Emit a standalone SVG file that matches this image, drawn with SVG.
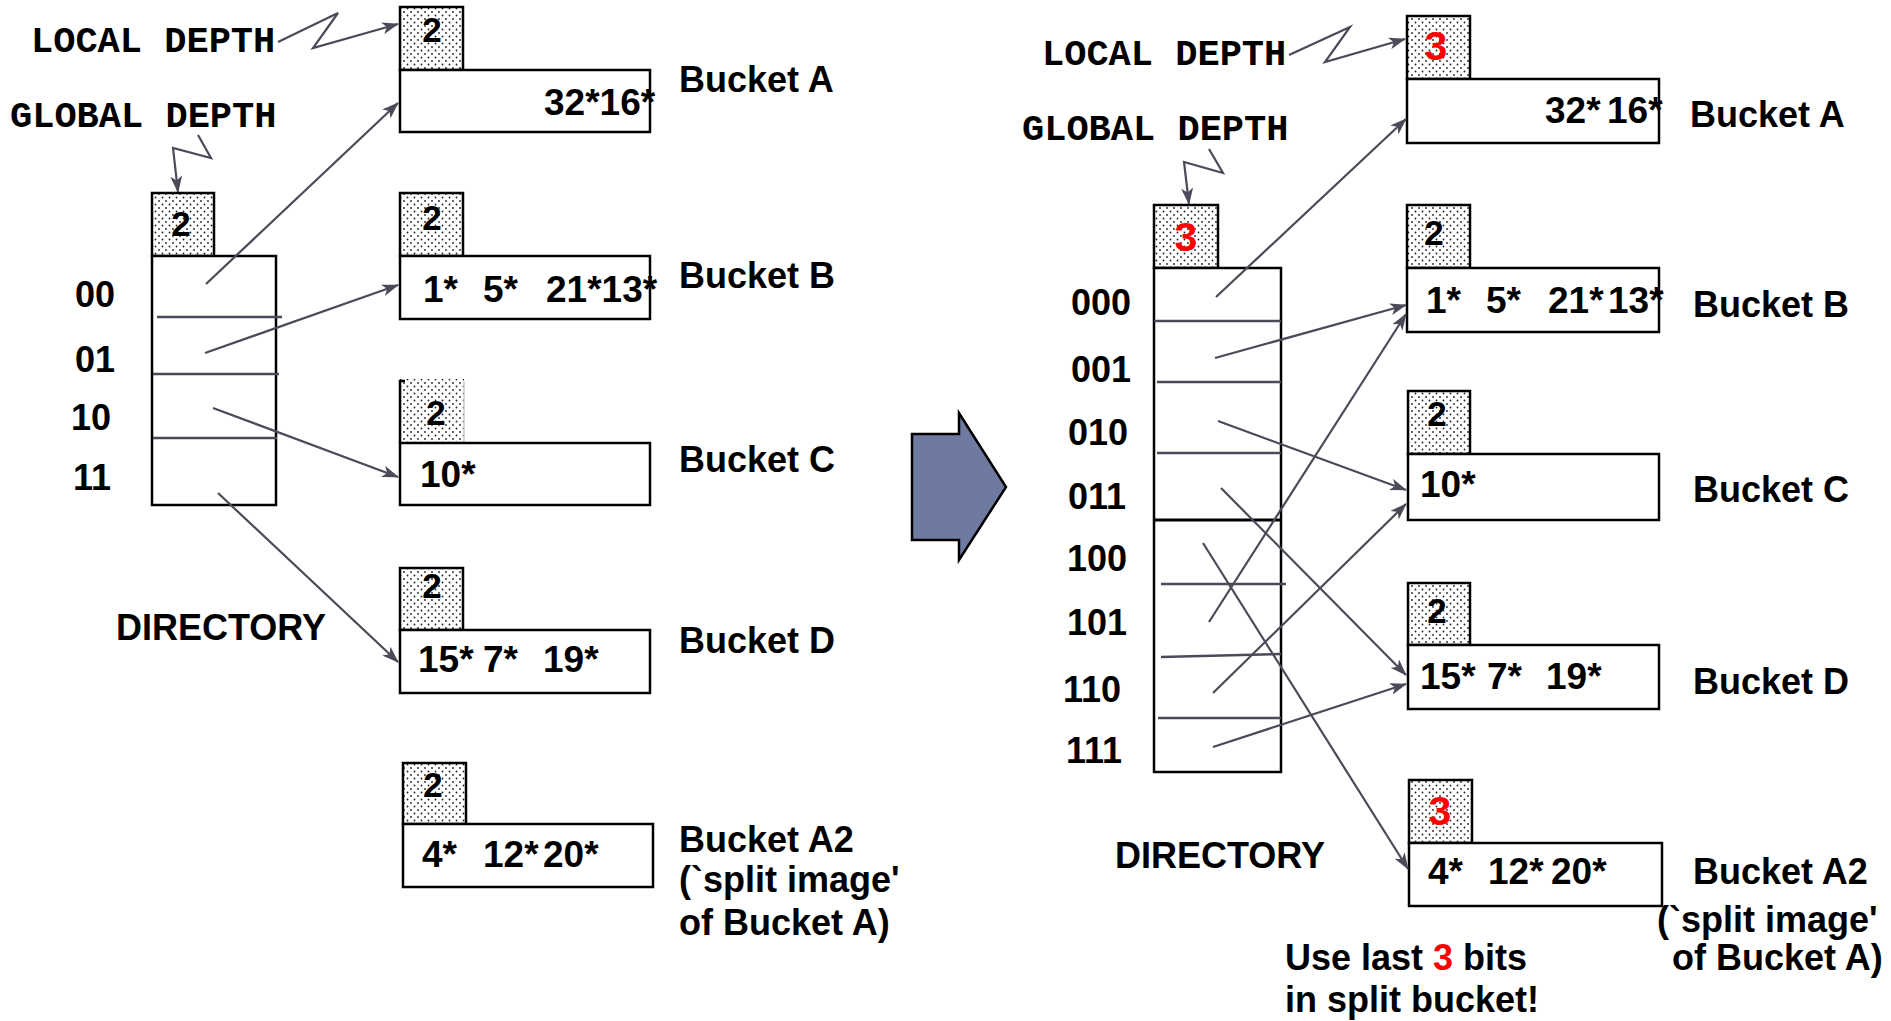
<svg xmlns="http://www.w3.org/2000/svg" width="1891" height="1021" viewBox="0 0 1891 1021">
  <style>
    .box { fill: #ffffff; stroke: #000000; stroke-width: 2.5; }
    .ld { fill: url(#dots); stroke: #000000; stroke-width: 2.5; }
    .conn { fill: none; stroke: #4a4a58; stroke-width: 2.2; marker-end: url(#ah); }
    .div { stroke: #4a4a58; stroke-width: 2.5; }
    .sans { font-family: "Liberation Sans", Arial, Helvetica, sans-serif; font-weight: bold; font-size: 36px; fill: #000000; }
    .num { font-family: "Liberation Sans", Arial, Helvetica, sans-serif; font-weight: bold; font-size: 37px; fill: #000000; }
    .dep { font-family: "Liberation Sans", Arial, Helvetica, sans-serif; font-weight: bold; font-size: 35px; fill: #000000; text-anchor: middle; }
    .red { fill: #ff0000; font-size: 41px; }
    .mono { font-family: "Liberation Mono", "Courier New", monospace; font-weight: bold; font-size: 37px; fill: #000000; }
  </style>
  <defs>
    <pattern id="dots" patternUnits="userSpaceOnUse" width="7" height="7">
      <rect width="7" height="7" fill="#ffffff"/>
      <circle cx="1.5" cy="1.5" r="0.9" fill="#222222"/>
      <circle cx="5" cy="5" r="0.9" fill="#222222"/>
    </pattern>
    <marker id="ah" markerUnits="userSpaceOnUse" markerWidth="17" markerHeight="12" viewBox="0 0 17 12" refX="16" refY="6" orient="auto">
      <path d="M0,0 L17,6 L0,12 L4.5,6 z" fill="#4a4a58"/>
    </marker>
  </defs>
  <rect width="1891" height="1021" fill="#ffffff"/>

  <!-- ===== Before the split (left) ===== -->
  <g id="left-labels">
    <text class="mono" x="31" y="52">LOCAL DEPTH</text>
    <text class="mono" x="10" y="127">GLOBAL DEPTH</text>
    <text class="sans" x="116" y="640">DIRECTORY</text>
  </g>

  <g id="left-directory">
    <rect class="ld" x="152" y="193" width="62" height="63"/>
    <text class="dep" x="181" y="236">2</text>
    <rect class="box" x="152" y="256" width="124" height="249"/>
    <line class="div" x1="157" y1="317" x2="282" y2="317"/>
    <line class="div" x1="153" y1="374" x2="279" y2="374"/>
    <line class="div" x1="153" y1="438" x2="277" y2="438"/>
    <text class="sans" x="75" y="307">00</text>
    <text class="sans" x="75" y="372">01</text>
    <text class="sans" x="71" y="430">10</text>
    <text class="sans" x="73" y="490">11</text>
  </g>

  <g id="left-bucket-a">
    <rect class="ld" x="400" y="7" width="63" height="63"/>
    <text class="dep" x="432" y="42">2</text>
    <rect class="box" x="400" y="70" width="250" height="62"/>
    <text class="num" x="544" y="115">32*16*</text>
    <text class="sans" x="679" y="92">Bucket A</text>
  </g>

  <g id="left-bucket-b">
    <rect class="ld" x="400" y="193" width="63" height="63"/>
    <text class="dep" x="432" y="230">2</text>
    <rect class="box" x="400" y="256" width="250" height="63"/>
    <text class="num" y="302"><tspan x="423">1*</tspan><tspan x="483">5*</tspan><tspan x="546">21*13*</tspan></text>
    <text class="sans" x="679" y="288">Bucket B</text>
  </g>

  <g id="left-bucket-c">
    <rect x="400" y="379" width="64" height="64" fill="url(#dots)"/>
    <polyline points="405,381 400,381 400,443" fill="none" stroke="#000000" stroke-width="2.5"/>
    <line x1="464" y1="381" x2="464" y2="443" stroke="#cccccc" stroke-width="1.5"/>
    <text class="dep" x="436" y="425">2</text>
    <rect class="box" x="400" y="443" width="250" height="62"/>
    <text class="num" x="420" y="487">10*</text>
    <text class="sans" x="679" y="472">Bucket C</text>
  </g>

  <g id="left-bucket-d">
    <rect class="ld" x="400" y="568" width="63" height="62"/>
    <text class="dep" x="432" y="598">2</text>
    <rect class="box" x="400" y="630" width="250" height="63"/>
    <text class="num" y="672"><tspan x="418">15*</tspan><tspan x="483">7*</tspan><tspan x="543">19*</tspan></text>
    <text class="sans" x="679" y="653">Bucket D</text>
  </g>

  <g id="left-bucket-a2">
    <rect class="ld" x="403" y="763" width="63" height="61"/>
    <text class="dep" x="433" y="797">2</text>
    <rect class="box" x="403" y="824" width="250" height="63"/>
    <text class="num" y="867"><tspan x="422">4*</tspan><tspan x="483">12*</tspan><tspan x="543">20*</tspan></text>
    <text class="sans" x="679" y="852">Bucket A2</text>
    <text class="sans" x="679" y="892">(`split image'</text>
    <text class="sans" x="679" y="935">of Bucket A)</text>
  </g>

  <!-- split step arrow -->
  <g id="split-arrow">
    <polygon points="912,434 959,434 959,413 1006,487 959,560 959,540 912,540" fill="#6f7aa1" stroke="#000000" stroke-width="2.5"/>
  </g>

  <!-- ===== After the split (right) ===== -->
  <g id="right-labels">
    <text class="mono" x="1042" y="65">LOCAL DEPTH</text>
    <text class="mono" x="1022" y="140">GLOBAL DEPTH</text>
    <text class="sans" x="1115" y="868">DIRECTORY</text>
    <text class="sans" x="1285" y="970">Use last <tspan fill="#ff0000">3</tspan> bits</text>
    <text class="sans" x="1285" y="1012">in split bucket!</text>
  </g>

  <g id="right-directory">
    <rect class="ld" x="1154" y="205" width="64" height="63"/>
    <text class="dep red" x="1186" y="251">3</text>
    <rect class="box" x="1154" y="268" width="127" height="504"/>
    <line class="div" x1="1154" y1="321" x2="1281" y2="321"/>
    <line class="div" x1="1157" y1="382" x2="1281" y2="382"/>
    <line class="div" x1="1157" y1="453" x2="1281" y2="453"/>
    <line x1="1154" y1="520" x2="1281" y2="520" stroke="#000000" stroke-width="3"/>
    <line class="div" x1="1161" y1="584" x2="1286" y2="584"/>
    <line class="div" x1="1161" y1="657" x2="1281" y2="654"/>
    <line class="div" x1="1158" y1="718" x2="1281" y2="718"/>
    <text class="sans" x="1071" y="315">000</text>
    <text class="sans" x="1071" y="382">001</text>
    <text class="sans" x="1068" y="445">010</text>
    <text class="sans" x="1068" y="509">011</text>
    <text class="sans" x="1067" y="571">100</text>
    <text class="sans" x="1067" y="635">101</text>
    <text class="sans" x="1063" y="702">110</text>
    <text class="sans" x="1066" y="763">111</text>
  </g>

  <g id="right-bucket-a">
    <rect class="ld" x="1407" y="16" width="63" height="63"/>
    <text class="dep red" x="1436" y="60">3</text>
    <rect class="box" x="1407" y="79" width="252" height="64"/>
    <text class="num" y="123"><tspan x="1545">32*</tspan><tspan x="1607">16*</tspan></text>
    <text class="sans" x="1690" y="127">Bucket A</text>
  </g>

  <g id="right-bucket-b">
    <rect class="ld" x="1407" y="205" width="63" height="63"/>
    <text class="dep" x="1434" y="245">2</text>
    <rect class="box" x="1407" y="268" width="252" height="64"/>
    <text class="num" y="313"><tspan x="1426">1*</tspan><tspan x="1486">5*</tspan><tspan x="1548">21*</tspan><tspan x="1608">13*</tspan></text>
    <text class="sans" x="1693" y="317">Bucket B</text>
  </g>

  <g id="right-bucket-c">
    <rect class="ld" x="1408" y="391" width="62" height="63"/>
    <text class="dep" x="1437" y="426">2</text>
    <rect class="box" x="1408" y="454" width="251" height="66"/>
    <text class="num" x="1420" y="497">10*</text>
    <text class="sans" x="1693" y="502">Bucket C</text>
  </g>

  <g id="right-bucket-d">
    <rect class="ld" x="1408" y="583" width="62" height="62"/>
    <text class="dep" x="1437" y="623">2</text>
    <rect class="box" x="1408" y="645" width="251" height="64"/>
    <text class="num" y="689"><tspan x="1420">15*</tspan><tspan x="1487">7*</tspan><tspan x="1546">19*</tspan></text>
    <text class="sans" x="1693" y="694">Bucket D</text>
  </g>

  <g id="right-bucket-a2">
    <rect class="ld" x="1409" y="780" width="63" height="63"/>
    <text class="dep red" x="1440" y="825">3</text>
    <rect class="box" x="1409" y="843" width="253" height="63"/>
    <text class="num" y="884"><tspan x="1428">4*</tspan><tspan x="1488">12*</tspan><tspan x="1551">20*</tspan></text>
    <text class="sans" x="1693" y="884">Bucket A2</text>
    <text class="sans" x="1657" y="932">(`split image'</text>
    <text class="sans" x="1672" y="970">of Bucket A)</text>
  </g>

  <!-- pointers and callouts -->
  <g id="connectors">
    <polyline class="conn" points="278,42 338,13 313,48 398,24"/>
    <polyline class="conn" points="198,135 211,158 173,148 178,192"/>
    <line class="conn" x1="206" y1="284" x2="398" y2="103"/>
    <line class="conn" x1="205" y1="353" x2="398" y2="285"/>
    <line class="conn" x1="213" y1="408" x2="398" y2="477"/>
    <line class="conn" x1="218" y1="493" x2="398" y2="662"/>

    <polyline class="conn" points="1289,55 1350,27 1325,62 1405,39"/>
    <polyline class="conn" points="1209,149 1223,173 1184,162 1189,204"/>
    <line class="conn" x1="1216" y1="297" x2="1406" y2="119"/>
    <line class="conn" x1="1215" y1="358" x2="1406" y2="305"/>
    <line class="conn" x1="1218" y1="421" x2="1406" y2="490"/>
    <line class="conn" x1="1221" y1="488" x2="1406" y2="675"/>
    <line class="conn" x1="1203" y1="543" x2="1408" y2="869"/>
    <line class="conn" x1="1209" y1="622" x2="1406" y2="314"/>
    <line class="conn" x1="1213" y1="693" x2="1406" y2="504"/>
    <line class="conn" x1="1213" y1="747" x2="1406" y2="684"/>
  </g>
</svg>
